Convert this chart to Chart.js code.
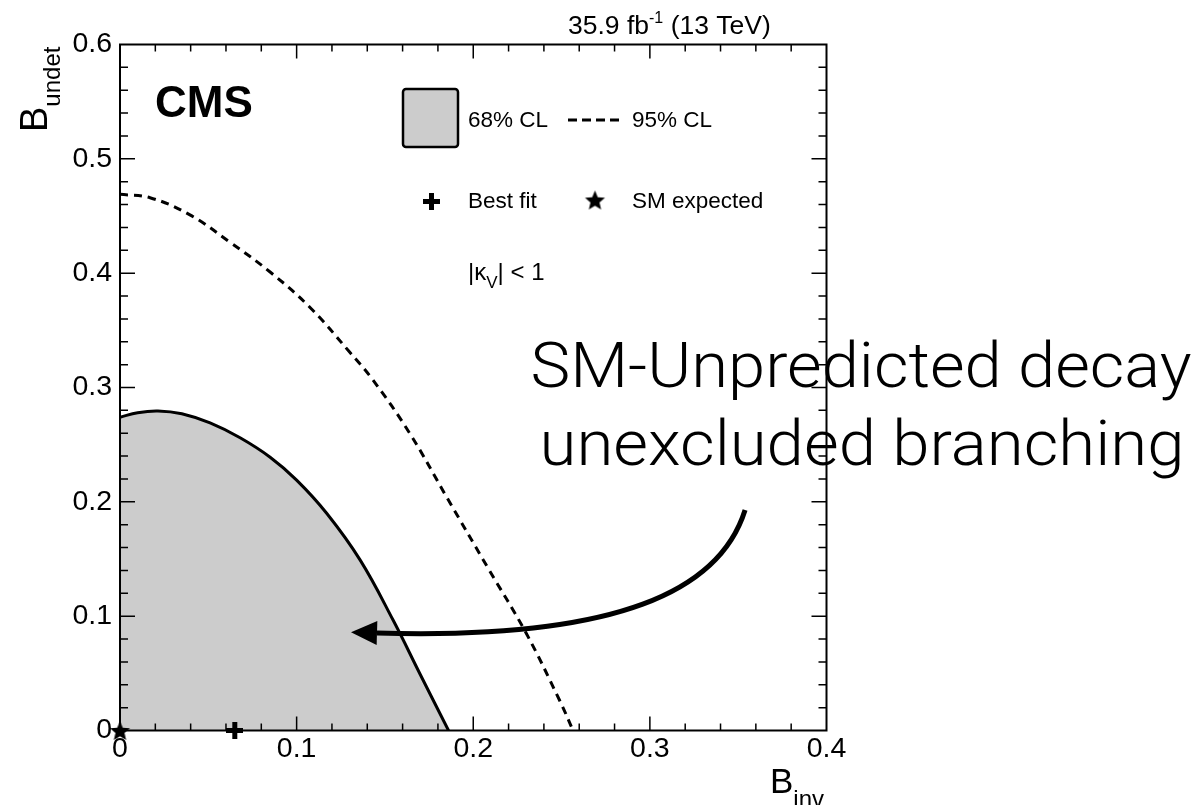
<!DOCTYPE html>
<html>
<head>
<meta charset="utf-8">
<script src="https://cdn.jsdelivr.net/npm/chart.js@4.4.1/dist/chart.umd.min.js"></script>
<style>
  html, body { margin: 0; padding: 0; background: #fff; }
  canvas { display: block; }
</style>
</head>
<body>
<canvas id="chart" width="1202" height="805"></canvas>
<script>
// 68% CL contour (solid, filled)
const contour68X = [0, 0.010, 0.0215, 0.035, 0.051, 0.068, 0.085, 0.100, 0.117, 0.136, 0.1546, 0.170, 0.186];
const contour68Y = [0.274, 0.278, 0.2795, 0.277, 0.269, 0.256, 0.239, 0.219, 0.190, 0.149, 0.0966, 0.049, 0];

// 95% CL contour (dashed)
const contour95X = [0, 0.017, 0.0396, 0.0623, 0.085, 0.1076, 0.130, 0.143, 0.164, 0.185, 0.208, 0.230, 0.249, 0.2565];
const contour95Y = [0.469, 0.466, 0.451, 0.427, 0.401, 0.370, 0.331, 0.307, 0.260, 0.204, 0.143, 0.085, 0.026, 0];

// markers
const bestFit = [0.065, 0];
const smExpected = [0, 0];

// axes
const xTickValues = [0, 0.1, 0.2, 0.3, 0.4];
const xTickLabels = ['0', '0.1', '0.2', '0.3', '0.4'];
const yTickValues = [0, 0.1, 0.2, 0.3, 0.4, 0.5, 0.6];
const yTickLabels = ['0', '0.1', '0.2', '0.3', '0.4', '0.5', '0.6'];

const FONT = '"Liberation Sans", Arial, Helvetica, sans-serif';

// arrow drawn over the plot, in data units
const arrowCurve = {
  start: [0.3539, 0.1929],
  c1: [0.3397, 0.1229],
  c2: [0.2831, 0.0791],
  end: [0.1455, 0.0853]
};

const toPoints = (xs, ys) => xs.map((x, i) => ({ x: x, y: ys[i] }));

function makeStar(r) {
  const c = document.createElement('canvas');
  c.width = c.height = Math.ceil(r * 2 + 2);
  const g = c.getContext('2d');
  const cx = c.width / 2, cy = c.height / 2 + r * 0.1;
  g.beginPath();
  for (let i = 0; i < 10; i++) {
    const rad = i % 2 === 0 ? r : r * 0.45;
    const a = -Math.PI / 2 + i * Math.PI / 5;
    g.lineTo(cx + rad * Math.cos(a), cy + rad * Math.sin(a));
  }
  g.closePath();
  g.fillStyle = '#000';
  g.fill();
  return c;
}

function makeCross(size, thick) {
  const c = document.createElement('canvas');
  c.width = c.height = size;
  const g = c.getContext('2d');
  g.fillStyle = '#000';
  g.fillRect(0, (size - thick) / 2, size, thick);
  g.fillRect((size - thick) / 2, 0, thick, size);
  return c;
}

const starImg = makeStar(10.5);
const crossImg = makeCross(17, 5);

// inward ticks and the frame, drawn right after the filled contour
const framePlugin = {
  id: 'frame',
  afterDatasetDraw(chart, args) {
    if (args.index !== 0) return;
    const { ctx, chartArea: a, scales: { x, y } } = chart;
    ctx.save();
    ctx.strokeStyle = '#000';
    ctx.lineWidth = 1.5;
    ctx.beginPath();
    for (let i = 1; i < 20; i++) {
      const px = x.getPixelForValue(i * 0.02);
      const len = i % 5 === 0 ? 14 : 7;
      ctx.moveTo(px, a.bottom); ctx.lineTo(px, a.bottom - len);
      ctx.moveTo(px, a.top); ctx.lineTo(px, a.top + len);
    }
    for (let i = 1; i < 30; i++) {
      const py = y.getPixelForValue(i * 0.02);
      const len = i % 5 === 0 ? 15 : 8;
      ctx.moveTo(a.left, py); ctx.lineTo(a.left + len, py);
      ctx.moveTo(a.right, py); ctx.lineTo(a.right - len, py);
    }
    ctx.stroke();
    ctx.lineWidth = 2;
    ctx.strokeRect(a.left, a.top, a.right - a.left, a.bottom - a.top);
    ctx.restore();
  }
};

// draws text pieces in sequence: [text, size, dy, weight]
function drawRuns(ctx, x, y, runs) {
  let cx = x;
  runs.forEach(([t, size, dy, weight]) => {
    ctx.font = (weight || 'normal') + ' ' + size + 'px ' + FONT;
    ctx.fillText(t, cx, y + (dy || 0));
    cx += ctx.measureText(t).width;
  });
}

// centred line squeezed/stretched to a given width
function fitText(ctx, t, cx, y, w) {
  const m = ctx.measureText(t).width;
  ctx.save();
  ctx.translate(cx, y);
  ctx.scale(w / m, 1);
  ctx.fillText(t, 0, 0);
  ctx.restore();
}

const annotations = {
  id: 'annotations',
  afterDraw(chart) {
    const { ctx, scales: { x, y } } = chart;
    ctx.save();
    ctx.fillStyle = '#000';
    ctx.textBaseline = 'alphabetic';
    ctx.textAlign = 'left';

    // header
    drawRuns(ctx, 568, 34, [['35.9 fb', 26.5], ['-1', 16, -11], [' (13 TeV)', 26.5]]);
    drawRuns(ctx, 155, 117, [['CMS', 44, 0, 'bold']]);

    // legend
    ctx.fillStyle = '#cccccc';
    ctx.strokeStyle = '#000';
    ctx.lineWidth = 2.5;
    ctx.beginPath();
    ctx.roundRect(403, 89, 55, 58, 3);
    ctx.fill();
    ctx.stroke();
    ctx.fillStyle = '#000';
    drawRuns(ctx, 468, 127, [['68% CL', 22.5]]);
    ctx.lineWidth = 3;
    ctx.setLineDash([9, 5]);
    ctx.beginPath();
    ctx.moveTo(568, 120); ctx.lineTo(622, 120);
    ctx.stroke();
    ctx.setLineDash([]);
    drawRuns(ctx, 632, 127, [['95% CL', 22.5]]);
    ctx.drawImage(crossImg, 431.5 - 8.5, 201.5 - 8.5);
    drawRuns(ctx, 468, 208, [['Best fit', 22.5]]);
    ctx.drawImage(starImg, 595 - starImg.width / 2, 200 - starImg.height / 2);
    drawRuns(ctx, 632, 208, [['SM expected', 22.5]]);
    drawRuns(ctx, 468, 280, [['|\u03ba', 24], ['V', 17, 8], ['| < 1', 24]]);

    // axis titles
    drawRuns(ctx, 770, 793, [['B', 35], ['inv', 24, 14]]);
    ctx.save();
    ctx.translate(47, 132);
    ctx.rotate(-Math.PI / 2);
    drawRuns(ctx, 0, 0, [['B', 38], ['undet', 24, 13]]);
    ctx.restore();

    // big annotation
    ctx.textAlign = 'center';
    ctx.font = '300 63px Roboto, ' + FONT;
    fitText(ctx, 'SM-Unpredicted decay', 861, 387, 661);
    fitText(ctx, 'unexcluded branching', 862, 465, 645);

    // arrow
    const p = (d) => [x.getPixelForValue(d[0]), y.getPixelForValue(d[1])];
    const s = p(arrowCurve.start), c1 = p(arrowCurve.c1), c2 = p(arrowCurve.c2), e = p(arrowCurve.end);
    ctx.lineWidth = 5;
    ctx.lineCap = 'butt';
    ctx.beginPath();
    ctx.moveTo(s[0], s[1]);
    ctx.bezierCurveTo(c1[0], c1[1], c2[0], c2[1], e[0], e[1]);
    ctx.stroke();
    let dx = e[0] - c2[0], dy = e[1] - c2[1];
    const n = Math.hypot(dx, dy); dx /= n; dy /= n;
    const hl = 26, hw = 12;
    ctx.beginPath();
    ctx.moveTo(e[0] + dx * hl, e[1] + dy * hl);
    ctx.lineTo(e[0] - dy * hw, e[1] + dx * hw);
    ctx.lineTo(e[0] + dy * hw, e[1] - dx * hw);
    ctx.closePath();
    ctx.fill();
    ctx.restore();
  }
};

new Chart(document.getElementById('chart'), {
  type: 'scatter',
  data: {
    datasets: [
      {
        label: '68% CL',
        data: toPoints(contour68X, contour68Y),
        showLine: true,
        fill: 'origin',
        backgroundColor: '#cccccc',
        borderColor: '#000',
        borderWidth: 3,
        pointRadius: 0,
        tension: 0.4,
        order: 4
      },
      {
        label: '95% CL',
        data: toPoints(contour95X, contour95Y),
        showLine: true,
        fill: false,
        borderColor: '#000',
        borderWidth: 3,
        borderDash: [8, 6],
        pointRadius: 0,
        tension: 0.4,
        order: 3
      },
      {
        label: 'Best fit',
        data: [{ x: bestFit[0], y: bestFit[1] }],
        pointStyle: crossImg,
        pointRadius: 9,
        clip: false,
        order: 2
      },
      {
        label: 'SM expected',
        data: [{ x: smExpected[0], y: smExpected[1] }],
        pointStyle: starImg,
        pointRadius: 9,
        clip: false,
        order: 1
      }
    ]
  },
  options: {
    responsive: false,
    animation: false,
    devicePixelRatio: 1,
    layout: { padding: { left: 0, right: 375.5, top: 44.5, bottom: 0 } },
    plugins: {
      legend: { display: false },
      tooltip: { enabled: false }
    },
    scales: {
      x: {
        type: 'linear',
        min: 0,
        max: 0.4,
        afterBuildTicks: (scale) => { scale.ticks = xTickValues.map(v => ({ value: v })); },
        afterFit: (scale) => { scale.height = 74.5; },
        ticks: {
          color: '#000',
          padding: 2,
          maxRotation: 0,
          font: { family: FONT, size: 28.5 },
          callback: (v, i) => xTickLabels[i]
        },
        grid: { display: false, drawTicks: false },
        border: { display: false }
      },
      y: {
        type: 'linear',
        min: 0,
        max: 0.6,
        afterBuildTicks: (scale) => { scale.ticks = yTickValues.map(v => ({ value: v })); },
        afterFit: (scale) => { scale.width = 120; },
        ticks: {
          color: '#000',
          padding: 8,
          font: { family: FONT, size: 28.5 },
          callback: (v, i) => yTickLabels[i]
        },
        grid: { display: false, drawTicks: false },
        border: { display: false }
      }
    }
  },
  plugins: [framePlugin, annotations]
});
</script>
</body>
</html>
